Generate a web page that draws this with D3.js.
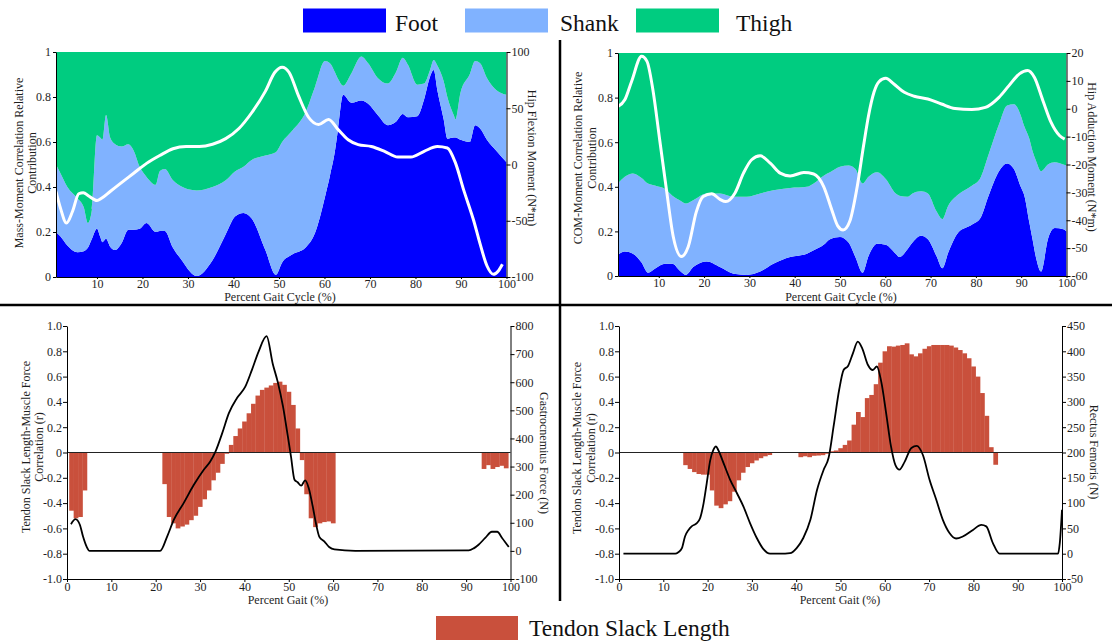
<!DOCTYPE html>
<html>
<head>
<meta charset="utf-8">
<script src="https://cdn.jsdelivr.net/npm/d3@7"></script>
<style>
  body { margin: 0; background: #fff; }
  svg { display: block; }
  text { font-family: "Liberation Serif", "Times New Roman", serif; }
</style>
</head>
<body>
<svg id="chart" width="1112" height="643"></svg>
<script>
// ---- Segment legend ----
const segments = ["Foot", "Shank", "Thigh"];
const segmentColors = ["#0000FF", "#80B2FF", "#00CC80"];
const barColor = "#C9503C";

// ---- Panel A: mass-moment correlation relative contribution ----
const massPct   = [1, 2, 3.5, 5.7, 7.1, 8, 8.9, 10, 10.7, 11.2, 12, 12.9, 14, 15.4, 16.9, 18, 19.4, 20.9, 22.9, 23.8, 24.9, 26.7, 28.8, 30, 31.9, 35.4, 38.3, 40.4, 42.2, 44, 47, 49.3, 50.7, 52.9, 55.8, 58, 60.1, 61.2, 62.3, 63, 64.1, 65.9, 68.1, 69.6, 71.7, 73.9, 75.7, 77.2, 78.3, 80.4, 81.9, 83.2, 84, 84.8, 86.2, 87, 88.4, 88.8, 89.9, 91.9, 93.1, 94.2, 95.7, 97.8, 100];
const massFoot  = [0.20, 0.18, 0.14, 0.11, 0.115, 0.13, 0.17, 0.215, 0.18, 0.155, 0.17, 0.135, 0.12, 0.15, 0.21, 0.21, 0.215, 0.24, 0.20, 0.205, 0.205, 0.13, 0.07, 0.035, 0.005, 0.075, 0.19, 0.27, 0.285, 0.26, 0.12, 0.01, 0.065, 0.10, 0.13, 0.20, 0.355, 0.45, 0.56, 0.66, 0.81, 0.775, 0.785, 0.77, 0.72, 0.675, 0.69, 0.725, 0.71, 0.715, 0.79, 0.89, 0.92, 0.83, 0.70, 0.615, 0.62, 0.62, 0.61, 0.60, 0.675, 0.66, 0.61, 0.56, 0.51];
const massShank = [0.30, 0.28, 0.26, 0.24, 0.195, 0.11, 0.13, 0.415, 0.44, 0.455, 0.55, 0.485, 0.47, 0.43, 0.38, 0.355, 0.275, 0.205, 0.21, 0.265, 0.275, 0.30, 0.33, 0.355, 0.38, 0.325, 0.24, 0.20, 0.205, 0.26, 0.42, 0.545, 0.535, 0.55, 0.60, 0.65, 0.605, 0.50, 0.35, 0.22, 0.04, 0.13, 0.195, 0.18, 0.165, 0.185, 0.22, 0.25, 0.235, 0.14, 0.07, 0.03, 0.045, 0.11, 0.17, 0.185, 0.10, 0.08, 0.21, 0.30, 0.285, 0.29, 0.275, 0.27, 0.30];
const massThigh = [0.50, 0.54, 0.60, 0.65, 0.69, 0.76, 0.70, 0.37, 0.38, 0.39, 0.28, 0.38, 0.41, 0.42, 0.41, 0.435, 0.51, 0.555, 0.59, 0.53, 0.52, 0.57, 0.60, 0.61, 0.615, 0.60, 0.57, 0.53, 0.51, 0.48, 0.46, 0.445, 0.40, 0.35, 0.27, 0.15, 0.04, 0.05, 0.09, 0.12, 0.15, 0.095, 0.02, 0.05, 0.115, 0.14, 0.09, 0.025, 0.055, 0.145, 0.14, 0.08, 0.035, 0.06, 0.13, 0.20, 0.28, 0.30, 0.18, 0.10, 0.04, 0.05, 0.115, 0.17, 0.19];
// Hip flexion moment (N*m)
const flexPct = [1, 2, 3.3, 4.6, 6, 7, 8.2, 10, 11, 12.9, 15.1, 18, 20.9, 23.8, 26.7, 29.6, 32.5, 35.4, 38.3, 41.2, 44, 47, 49.1, 50.7, 52.2, 54.3, 56.5, 58.7, 60.9, 63, 65.2, 67.4, 70.3, 73.2, 76.1, 79, 81.9, 84.8, 87, 88.8, 90.6, 92.8, 94.2, 95.7, 97.1, 98.2, 99.1];
const flexMoment = [-24, -39, -52, -42, -26, -25, -28, -32, -30, -24, -17, -8, 1, 8, 14, 16, 16, 18, 23, 32, 46, 65, 82, 86.5, 82, 61, 42, 35.6, 40, 31, 22, 17.7, 16, 11.7, 6.6, 6.6, 11.7, 16, 14.7, 1.2, -22.8, -50, -70.6, -90, -97.6, -94.6, -88.6];

// ---- Panel B: COM-moment correlation relative contribution ----
const comPct   = [1, 2.5, 4.3, 6.2, 7.6, 9.3, 11.4, 13, 14.6, 16, 17.6, 20.6, 23.5, 26.5, 29.4, 32.4, 35.3, 39, 42.7, 44.2, 46.4, 47.8, 50, 51.9, 53.4, 55, 56.3, 58.2, 60.1, 62.3, 63.1, 64.9, 66, 67.9, 69.4, 71.3, 72.6, 73.9, 76.1, 79.1, 81, 82.8, 85.1, 86.9, 88.4, 89.9, 90.7, 91.8, 92.5, 93.3, 94.4, 95.9, 97.4, 99.3, 100];
const comFoot  = [0.095, 0.11, 0.10, 0.06, 0.015, 0.035, 0.055, 0.055, 0.025, 0.005, 0.04, 0.065, 0.04, 0.01, 0.005, 0.02, 0.055, 0.085, 0.10, 0.115, 0.14, 0.165, 0.175, 0.15, 0.085, 0.015, 0.09, 0.145, 0.14, 0.10, 0.085, 0.12, 0.15, 0.18, 0.165, 0.09, 0.035, 0.105, 0.195, 0.23, 0.26, 0.36, 0.47, 0.505, 0.48, 0.40, 0.36, 0.24, 0.165, 0.08, 0.02, 0.165, 0.215, 0.21, 0.20];
const comShank = [0.32, 0.335, 0.36, 0.38, 0.40, 0.37, 0.335, 0.305, 0.315, 0.32, 0.30, 0.305, 0.33, 0.345, 0.35, 0.35, 0.33, 0.31, 0.30, 0.30, 0.31, 0.30, 0.315, 0.345, 0.395, 0.40, 0.355, 0.32, 0.295, 0.27, 0.275, 0.235, 0.22, 0.20, 0.205, 0.20, 0.22, 0.21, 0.17, 0.175, 0.18, 0.185, 0.21, 0.26, 0.29, 0.32, 0.31, 0.375, 0.395, 0.435, 0.45, 0.335, 0.295, 0.29, 0.295];
const comThigh = [0.585, 0.555, 0.54, 0.56, 0.585, 0.595, 0.61, 0.64, 0.66, 0.675, 0.66, 0.63, 0.63, 0.645, 0.645, 0.63, 0.615, 0.605, 0.60, 0.585, 0.55, 0.535, 0.51, 0.505, 0.52, 0.585, 0.555, 0.535, 0.565, 0.63, 0.64, 0.645, 0.63, 0.62, 0.63, 0.71, 0.745, 0.685, 0.635, 0.595, 0.56, 0.455, 0.32, 0.235, 0.23, 0.28, 0.33, 0.385, 0.44, 0.485, 0.53, 0.50, 0.49, 0.50, 0.505];
// Hip adduction moment (N*m)
const addPct = [1, 2.5, 4, 6.2, 7.4, 8.7, 10.2, 11.7, 13.2, 15, 16.5, 18.3, 19.8, 21.7, 23.5, 24.8, 26.8, 28.7, 30.5, 32.4, 34.6, 36.8, 39, 42, 44.2, 46.4, 48.2, 49.5, 50.7, 52.2, 53.7, 55.2, 56.3, 57.5, 58.6, 60.1, 61.9, 64.2, 66.4, 69.4, 72.4, 75.4, 79.1, 82.1, 85.1, 87.3, 89.6, 91.4, 92.9, 94.8, 96.6, 98.5, 99.6];
const addMoment = [0.8, 3.2, 9.8, 18.8, 17, 6.8, -11.1, -29.1, -45.9, -53, -49.5, -36.9, -31.5, -30.5, -32.5, -33.3, -30.3, -23.1, -18.3, -16.9, -19.5, -23.1, -24.1, -22.9, -23.4, -27.9, -36.3, -42, -43.5, -40.2, -28.9, -13.3, -2.5, 5.9, 9.7, 10.9, 8.9, 5.9, 4.5, 3.5, 1.7, 0.1, -0.3, 0.5, 4.1, 8.3, 12.5, 13.7, 11.3, 2.9, -4.9, -9.7, -10.9];

// ---- Panel C: gastrocnemius ----
const gasBarPct = [1, 2, 3, 4, 22, 23, 24, 25, 26, 27, 28, 29, 30, 31, 32, 33, 34, 35, 36, 37, 38, 39, 40, 41, 42, 43, 44, 45, 46, 47, 48, 49, 50, 51, 52, 53, 54, 55, 56, 57, 58, 59, 60, 94, 95, 96, 97, 98, 99];
const gasBarR   = [-0.46, -0.52, -0.51, -0.30, -0.25, -0.51, -0.56, -0.60, -0.585, -0.57, -0.535, -0.50, -0.43, -0.37, -0.30, -0.22, -0.16, -0.09, -0.01, 0.06, 0.13, 0.19, 0.245, 0.31, 0.385, 0.45, 0.495, 0.513, 0.53, 0.55, 0.56, 0.535, 0.48, 0.376, 0.19, -0.06, -0.33, -0.52, -0.59, -0.56, -0.55, -0.545, -0.56, -0.13, -0.10, -0.13, -0.115, -0.105, -0.125];
const gasForcePct = [0.9, 1.9, 2.9, 3.6, 4.4, 5.1, 21, 22.6, 24.1, 26.3, 28.6, 30.8, 32.3, 33.5, 35, 36.5, 38.3, 40.2, 41.7, 43.2, 45, 46.4, 47.5, 48.7, 49.8, 50.5, 51.3, 52, 52.8, 53.7, 54.5, 55.4, 56.1, 56.9, 58, 59.1, 60.3, 65, 90.6, 91.7, 92.8, 94.3, 95.8, 97, 98.1, 99.6];
const gasForce    = [95, 113, 93, 52, 16, 0, 0, 52, 111, 170, 235, 288, 318, 354, 419, 490, 543, 584, 644, 709, 764, 665, 602, 514, 407, 336, 253, 244, 232, 251, 224, 159, 100, 50, 34, 14, 5, 0, 2, 9, 22, 46, 68, 68, 46, 14];

// ---- Panel D: rectus femoris ----
const recBarPct = [15, 16, 17, 18, 19, 20, 21, 22, 23, 24, 25, 26, 27, 28, 29, 30, 31, 32, 33, 34, 41, 42, 43, 44, 45, 46, 47, 48, 49, 50, 51, 52, 53, 54, 55, 56, 57, 58, 59, 60, 61, 62, 63, 64, 65, 66, 67, 68, 69, 70, 71, 72, 73, 74, 75, 76, 77, 78, 79, 80, 81, 82, 83, 84, 85];
const recBarR   = [-0.10, -0.13, -0.155, -0.17, -0.175, -0.175, -0.30, -0.42, -0.44, -0.41, -0.385, -0.31, -0.22, -0.16, -0.115, -0.085, -0.063, -0.045, -0.03, -0.02, -0.037, -0.03, -0.037, -0.026, -0.024, -0.021, -0.01, 0.01, 0.016, 0.034, 0.06, 0.095, 0.22, 0.32, 0.28, 0.43, 0.455, 0.54, 0.71, 0.80, 0.84, 0.837, 0.845, 0.85, 0.863, 0.776, 0.76, 0.784, 0.82, 0.84, 0.85, 0.85, 0.85, 0.85, 0.845, 0.83, 0.81, 0.784, 0.745, 0.68, 0.60, 0.47, 0.29, 0.042, -0.097];
const recForcePct = [1, 12.7, 13.4, 14.2, 14.9, 15.7, 16.4, 17.5, 18.3, 19.1, 19.8, 20.6, 21.3, 21.9, 22.4, 23.6, 25.1, 26.6, 28.1, 29.6, 31.1, 32.6, 34.1, 36.4, 38.6, 40.1, 41.6, 43.2, 44.7, 46.2, 47.3, 48.5, 49.7, 50.7, 51.7, 52.8, 53.9, 54.9, 56.2, 57.3, 58.2, 59.2, 60.3, 61.4, 62.4, 63.3, 64.5, 66, 67.2, 68.6, 70.1, 71.6, 73.1, 74.6, 76.1, 77.6, 79.9, 81.8, 82.9, 84.4, 85.9, 99.1, 99.5, 100];
const recForce    = [0, 0, 3, 11, 34, 47, 54, 60, 70, 100, 139, 185, 205, 212, 205, 179, 146, 120, 93, 60, 31, 9, 0, 0, 1, 11, 31, 67, 126, 166, 189, 255, 324, 363, 371, 396, 419, 406, 373, 363, 370, 340, 278, 212, 175, 166, 182, 209, 213, 195, 146, 107, 67, 41, 30, 34, 47, 57, 54, 21, 0, 0, 21, 87];

// ---- Tick values ----
const topXTicks = [10, 20, 30, 40, 50, 60, 70, 80, 90, 100];
const bottomXTicks = [0, 10, 20, 30, 40, 50, 60, 70, 80, 90, 100];
const contributionTicks = [0, 0.2, 0.4, 0.6, 0.8, 1];
const flexTicks = [-100, -50, 0, 50, 100];
const addTicks = [-60, -50, -40, -30, -20, -10, 0, 10, 20];
const corrTicks = [-1, -0.8, -0.6, -0.4, -0.2, 0, 0.2, 0.4, 0.6, 0.8, 1];
const gasTicks = [-100, 0, 100, 200, 300, 400, 500, 600, 700, 800];
const recTicks = [-50, 0, 50, 100, 150, 200, 250, 300, 350, 400, 450];

const svg = d3.select("#chart");
const FONT = 12;
const TEXT = "#1e1e1e";

function styleAxis(g) {
  g.attr("color", "#000");
  g.selectAll("text").attr("font-size", FONT).attr("fill", TEXT)
    .attr("font-family", "'Liberation Serif', 'Times New Roman', serif");
  g.select(".domain").attr("stroke-width", 1);
  return g;
}

function leftTitle(lines, cx, cy, gap) {
  lines.forEach((t, i) => {
    svg.append("text")
      .attr("transform", `translate(${cx + i * gap},${cy}) rotate(-90)`)
      .attr("text-anchor", "middle").attr("dy", "0.35em")
      .attr("font-size", FONT).attr("fill", TEXT).text(t);
  });
}
function rightTitle(t, cx, cy) {
  svg.append("text")
    .attr("transform", `translate(${cx},${cy}) rotate(90)`)
    .attr("text-anchor", "middle").attr("dy", "0.35em")
    .attr("font-size", FONT).attr("fill", TEXT).text(t);
}
function bottomTitle(t, cx, y) {
  svg.append("text").attr("x", cx).attr("y", y).attr("text-anchor", "middle")
    .attr("font-size", FONT).attr("fill", TEXT).text(t);
}

let clipId = 0;
function clipRect(x0, x1, y0, y1) {
  const id = "clip" + (clipId++);
  svg.append("clipPath").attr("id", id).append("rect")
    .attr("x", x0).attr("y", y0).attr("width", x1 - x0).attr("height", y1 - y0);
  return `url(#${id})`;
}

// Stacked segment contributions with a moment curve on a secondary axis
function stackPanel(o) {
  const x = d3.scaleLinear().domain([1, 100]).range([o.left, o.right]);
  const y = d3.scaleLinear().domain([0, 1]).range([o.bottom, o.top]);
  const yR = d3.scaleLinear().domain(o.momentDomain).range([o.bottom, o.top]);

  const rows = o.pct.map((p, i) => ({ pct: p, Foot: o.foot[i], Shank: o.shank[i], Thigh: o.thigh[i] }));
  const layers = d3.stack().keys(segments)(rows);
  const area = d3.area()
    .x(d => x(d.data.pct)).y0(d => y(d[0])).y1(d => y(d[1]))
    .curve(d3.curveMonotoneX);

  const g = svg.append("g").attr("clip-path", clipRect(o.left, o.right, o.top, o.bottom));
  g.selectAll("path.layer").data(layers).join("path")
    .attr("class", "layer")
    .attr("fill", (d, i) => segmentColors[i])
    .attr("d", area);

  const line = d3.line().x((d, i) => x(o.momentPct[i])).y(d => yR(d)).curve(d3.curveMonotoneX);
  g.append("path").datum(o.moment).attr("fill", "none")
    .attr("stroke", "#fff").attr("stroke-width", 3).attr("stroke-linejoin", "round")
    .attr("d", line);

  styleAxis(svg.append("g").attr("transform", `translate(${o.left},0)`)
    .call(d3.axisLeft(y).tickValues(contributionTicks).tickFormat(d => String(d))
      .tickSize(3).tickSizeOuter(0).tickPadding(2)));
  styleAxis(svg.append("g").attr("transform", `translate(${o.right},0)`)
    .call(d3.axisRight(yR).tickValues(o.momentTicks).tickFormat(d => String(d))
      .tickSize(4).tickSizeOuter(0).tickPadding(1)));
  styleAxis(svg.append("g").attr("transform", `translate(0,${o.bottom})`)
    .call(d3.axisBottom(x).tickValues(topXTicks).tickFormat(d => String(d))
      .tickSize(2).tickSizeOuter(0).tickPadding(0)));
}

// Correlation bars with a muscle-force curve on a secondary axis
function barPanel(o) {
  const x = d3.scaleLinear().domain([0, 100]).range([o.left, o.right]);
  const y = d3.scaleLinear().domain([-1, 1]).range([o.bottom, o.top]);
  const yR = d3.scaleLinear().domain(o.forceDomain).range([o.bottom, o.top]);

  const g = svg.append("g");
  g.selectAll("rect.bar").data(o.barPct).join("rect")
    .attr("class", "bar")
    .attr("x", p => x(p - 0.5))
    .attr("width", p => x(p + 0.5) - x(p - 0.5) + 0.3)
    .attr("y", (p, i) => Math.min(y(0), y(o.barR[i])))
    .attr("height", (p, i) => Math.abs(y(o.barR[i]) - y(0)))
    .attr("fill", barColor);

  g.append("line").attr("x1", x(0)).attr("x2", x(100))
    .attr("y1", y(0)).attr("y2", y(0)).attr("stroke", "#222").attr("stroke-width", 1);

  const line = d3.line().x((d, i) => x(o.forcePct[i])).y(d => yR(d)).curve(d3.curveMonotoneX);
  g.append("path").datum(o.force).attr("fill", "none")
    .attr("stroke", "#000").attr("stroke-width", 1.8).attr("stroke-linejoin", "round")
    .attr("d", line);

  styleAxis(svg.append("g").attr("transform", `translate(${o.left},0)`)
    .call(d3.axisLeft(y).tickValues(corrTicks)
      .tickFormat(d => Math.abs(d) < 1e-9 ? "0" : d.toFixed(1))
      .tickSize(4).tickSizeOuter(0).tickPadding(1)));
  styleAxis(svg.append("g").attr("transform", `translate(${o.right},0)`)
    .call(d3.axisRight(yR).tickValues(o.forceTicks).tickFormat(d => String(d))
      .tickSize(4).tickSizeOuter(0).tickPadding(1)));
  styleAxis(svg.append("g").attr("transform", `translate(0,${o.bottom})`)
    .call(d3.axisBottom(x).tickValues(bottomXTicks).tickFormat(d => String(d))
      .tickSize(3).tickSizeOuter(0).tickPadding(0)));
}

stackPanel({
  left: 56, right: 506.5, top: 52, bottom: 277,
  pct: massPct, foot: massFoot, shank: massShank, thigh: massThigh,
  momentPct: flexPct, moment: flexMoment, momentDomain: [-100, 100], momentTicks: flexTicks
});
stackPanel({
  left: 618, right: 1066.5, top: 53, bottom: 276,
  pct: comPct, foot: comFoot, shank: comShank, thigh: comThigh,
  momentPct: addPct, moment: addMoment, momentDomain: [-60, 20], momentTicks: addTicks
});
barPanel({
  left: 67, right: 510.5, top: 326, bottom: 579,
  barPct: gasBarPct, barR: gasBarR,
  forcePct: gasForcePct, force: gasForce, forceDomain: [-100, 800], forceTicks: gasTicks
});
barPanel({
  left: 619, right: 1062, top: 326, bottom: 579,
  barPct: recBarPct, barR: recBarR,
  forcePct: recForcePct, force: recForce, forceDomain: [-50, 450], forceTicks: recTicks
});

// Axis titles
leftTitle(["Mass-Moment Correlation Relative", "Contribution"], 18.5, 163, 13);
leftTitle(["COM-Moment Correlation Relative", "Contribution"], 578, 158, 13.5);
leftTitle(["Tendon Slack Length-Muscle Force", "Correlation (r)"], 26, 447, 13);
leftTitle(["Tendon Slack Length-Muscle Force", "Correlation (r)"], 576.5, 448, 14);
rightTitle("Hip Flexion Moment (N*m)", 532, 158);
rightTitle("Hip Adduction Moment (N*m)", 1092, 157);
rightTitle("Gastrocnemius Force (N)", 544, 453);
rightTitle("Rectus Femoris (N)", 1094, 452);
bottomTitle("Percent Gait Cycle (%)", 280, 301);
bottomTitle("Percent Gait Cycle (%)", 841, 301);
bottomTitle("Percent Gait (%)", 288, 603.5);
bottomTitle("Percent Gait (%)", 840, 603.5);

// Panel dividers
svg.append("line").attr("x1", 0).attr("x2", 1112).attr("y1", 305).attr("y2", 305)
  .attr("stroke", "#000").attr("stroke-width", 2.5);
svg.append("line").attr("x1", 560).attr("x2", 560).attr("y1", 40).attr("y2", 601)
  .attr("stroke", "#000").attr("stroke-width", 2.5);

// Legends
const legendX = [303, 465, 636];
const legendLabelX = [395, 560, 736];
const lg = svg.append("g");
segments.forEach((s, i) => {
  lg.append("rect").attr("x", legendX[i]).attr("y", 8.5).attr("width", 83).attr("height", 24)
    .attr("fill", segmentColors[i]);
  lg.append("text").attr("x", legendLabelX[i]).attr("y", 31)
    .attr("font-size", 23.5).attr("fill", "#111").text(s);
});
svg.append("rect").attr("x", 436).attr("y", 616).attr("width", 82).attr("height", 24).attr("fill", barColor);
svg.append("text").attr("x", 529).attr("y", 636).attr("font-size", 23.5).attr("fill", "#111")
  .text("Tendon Slack Length");
</script>
</body>
</html>
